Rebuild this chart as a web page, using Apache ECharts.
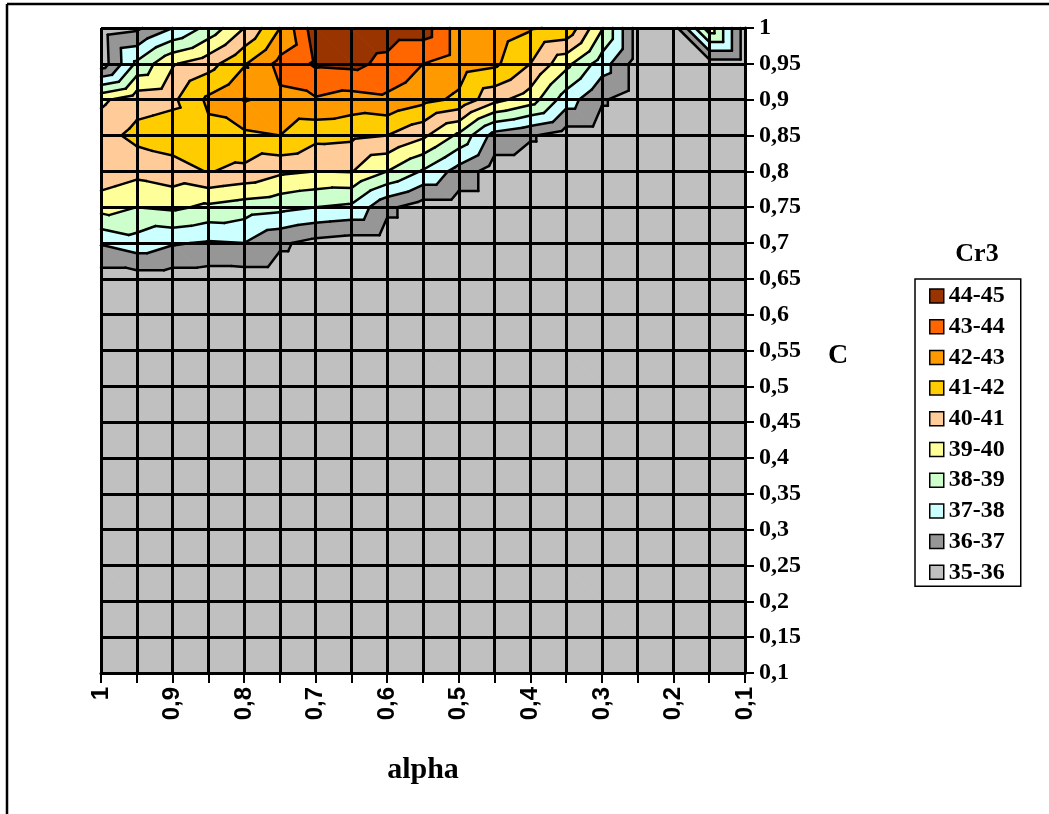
<!DOCTYPE html>
<html><head><meta charset="utf-8">
<script src="https://cdn.jsdelivr.net/npm/echarts@6/dist/echarts.min.js"></script>
<style>html,body{margin:0;padding:0;background:#fff}#c{width:1049px;height:814px}</style>
</head><body><div id="c"></div>
<script>
// Axis values (alpha decreasing left->right, C decreasing top->bottom)
const alphaValues = [1,0.95,0.9,0.85,0.8,0.75,0.7,0.65,0.6,0.55,0.5,0.45,0.4,0.35,0.3,0.25,0.2,0.15,0.1];
const cValues = [1,0.95,0.9,0.85,0.8,0.75,0.7,0.65,0.6,0.55,0.5,0.45,0.4,0.35,0.3,0.25,0.2,0.15,0.1];

// Cr3 values, one row per C value, columns in alphaValues order
const cr3_C100 = [35.5,35.8,37.0,38.3,40.0,42.0,44.6,44.6,44.5,44.5,42.5,42.6,42.1,41.8,39.1,35.5,35.5,39.6,35.5];
const cr3_C095 = [35.4,38.2,39.9,40.6,41.9,43.3,44.15,44.25,43.75,43.0,42.5,42.2,41.0,39.3,37.5,35.5,35.5,35.5,35.5];
const cr3_C090 = [39.8,40.6,40.8,42.2,43.05,42.8,42.9,42.6,42.8,42.3,41.8,40.3,39.5,37.5,36.1,35.5,35.5,35.5,35.5];
const cr3_C085 = [40.6,41.3,41.5,41.7,41.8,42.0,41.3,41.2,41.0,40.2,38.8,36.6,36.1,35.5,35.5,35.5,35.5,35.5,35.5];
const cr3_C080 = [40.7,40.3,40.6,41.05,40.77,40.2,40.0,40.05,39.0,37.9,36.6,35.5,35.5,35.5,35.5,35.5,35.5,35.5,35.5];
const cr3_C075 = [39.4,39.0,39.2,38.8,38.5,38.3,38.0,37.8,36.2,35.5,35.5,35.5,35.5,35.5,35.5,35.5,35.5,35.5,35.5];
const cr3_C070 = [37.1,37.6,37.1,36.9,37.0,36.15,35.7,35.5,35.5,35.5,35.5,35.5,35.5,35.5,35.5,35.5,35.5,35.5,35.5];
const cr3_C065 = [35.5,35.5,35.5,35.5,35.5,35.5,35.5,35.5,35.5,35.5,35.5,35.5,35.5,35.5,35.5,35.5,35.5,35.5,35.5];
const cr3_C060 = [35.5,35.5,35.5,35.5,35.5,35.5,35.5,35.5,35.5,35.5,35.5,35.5,35.5,35.5,35.5,35.5,35.5,35.5,35.5];
const cr3_C055 = [35.5,35.5,35.5,35.5,35.5,35.5,35.5,35.5,35.5,35.5,35.5,35.5,35.5,35.5,35.5,35.5,35.5,35.5,35.5];
const cr3_C050 = [35.5,35.5,35.5,35.5,35.5,35.5,35.5,35.5,35.5,35.5,35.5,35.5,35.5,35.5,35.5,35.5,35.5,35.5,35.5];
const cr3_C045 = [35.5,35.5,35.5,35.5,35.5,35.5,35.5,35.5,35.5,35.5,35.5,35.5,35.5,35.5,35.5,35.5,35.5,35.5,35.5];
const cr3_C040 = [35.5,35.5,35.5,35.5,35.5,35.5,35.5,35.5,35.5,35.5,35.5,35.5,35.5,35.5,35.5,35.5,35.5,35.5,35.5];
const cr3_C035 = [35.5,35.5,35.5,35.5,35.5,35.5,35.5,35.5,35.5,35.5,35.5,35.5,35.5,35.5,35.5,35.5,35.5,35.5,35.5];
const cr3_C030 = [35.5,35.5,35.5,35.5,35.5,35.5,35.5,35.5,35.5,35.5,35.5,35.5,35.5,35.5,35.5,35.5,35.5,35.5,35.5];
const cr3_C025 = [35.5,35.5,35.5,35.5,35.5,35.5,35.5,35.5,35.5,35.5,35.5,35.5,35.5,35.5,35.5,35.5,35.5,35.5,35.5];
const cr3_C020 = [35.5,35.5,35.5,35.5,35.5,35.5,35.5,35.5,35.5,35.5,35.5,35.5,35.5,35.5,35.5,35.5,35.5,35.5,35.5];
const cr3_C015 = [35.5,35.5,35.5,35.5,35.5,35.5,35.5,35.5,35.5,35.5,35.5,35.5,35.5,35.5,35.5,35.5,35.5,35.5,35.5];
const cr3_C010 = [35.5,35.5,35.5,35.5,35.5,35.5,35.5,35.5,35.5,35.5,35.5,35.5,35.5,35.5,35.5,35.5,35.5,35.5,35.5];
const cr3Grid = [cr3_C100,cr3_C095,cr3_C090,cr3_C085,cr3_C080,cr3_C075,cr3_C070,cr3_C065,cr3_C060,cr3_C055,
                 cr3_C050,cr3_C045,cr3_C040,cr3_C035,cr3_C030,cr3_C025,cr3_C020,cr3_C015,cr3_C010];

// Bands (legend order)
const bandNames = ['44-45','43-44','42-43','41-42','40-41','39-40','38-39','37-38','36-37','35-36'];
const bandLows  = [44,43,42,41,40,39,38,37,36,35];
const bandColors = ['#993300','#FF6600','#FF9900','#FFCC00','#FFCC99','#FFFF99','#CCFFCC','#CCFFFF','#969696','#C0C0C0'];
const contourLevels = [36,37,38,39,40,41,42,43,44];

const cells = [];
for (let r = 0; r < cValues.length - 1; r++)
  for (let c = 0; c < alphaValues.length - 1; c++) cells.push([c, r]);

function clip(poly, level, keepAbove) {
  if (!isFinite(level)) return poly;
  const out = [];
  const inside = p => keepAbove ? p[2] >= level : p[2] <= level;
  for (let i = 0; i < poly.length; i++) {
    const a = poly[i], b = poly[(i + 1) % poly.length];
    const ia = inside(a), ib = inside(b);
    if (ia) out.push(a);
    if (ia !== ib) {
      const t = (level - a[2]) / (b[2] - a[2]);
      out.push([a[0] + t * (b[0] - a[0]), a[1] + t * (b[1] - a[1]), level]);
    }
  }
  return out;
}
function cellTriangles(api) {
  const c = api.value(0), r = api.value(1);
  const P = (cc, rr) => { const p = api.coord([alphaValues[cc], cValues[rr]]); return [p[0], p[1], cr3Grid[rr][cc]]; };
  const tl = P(c, r), tr = P(c + 1, r), bl = P(c, r + 1), br = P(c + 1, r + 1);
  return [[tl, tr, br], [tl, br, bl]];
}
function bandRender(k) {
  const lo = k === bandLows.length - 1 ? -Infinity : bandLows[k];
  const hi = k === 0 ? Infinity : bandLows[k] + 1;
  const color = bandColors[k];
  return function (params, api) {
    const children = [];
    cellTriangles(api).forEach(tri => {
      let poly = clip(tri, lo, true);
      poly = clip(poly, hi, false);
      if (poly.length >= 3) children.push({
        type: 'polygon', shape: { points: poly.map(p => [p[0], p[1]]) },
        style: { fill: color, stroke: color, lineWidth: 1 }
      });
    });
    return { type: 'group', children };
  };
}
function contourRender(params, api) {
  const children = [];
  cellTriangles(api).forEach(tri => {
    contourLevels.forEach(L => {
      const pts = [];
      for (let i = 0; i < 3; i++) {
        const a = tri[i], b = tri[(i + 1) % 3];
        const ua = a[2] >= L, ub = b[2] >= L;
        if (ua !== ub) {
          const t = (L - a[2]) / (b[2] - a[2]);
          pts.push([a[0] + t * (b[0] - a[0]), a[1] + t * (b[1] - a[1])]);
        }
      }
      if (pts.length === 2) children.push({
        type: 'line', shape: { x1: pts[0][0], y1: pts[0][1], x2: pts[1][0], y2: pts[1][1] },
        style: { stroke: '#000', lineWidth: 2.5, lineCap: 'round' }
      });
    });
  });
  return { type: 'group', children };
}

const fmt = v => String(Math.round(v * 100) / 100).replace('.', ',');

const series = bandNames.map((name, k) => ({
  name, type: 'custom', renderItem: bandRender(k), data: cells, z: 2,
  itemStyle: { color: bandColors[k] }, silent: true, animation: false
}));
series.push({ name: 'contours', type: 'custom', renderItem: contourRender, data: cells, z: 3, silent: true, animation: false });

const chart = echarts.init(document.getElementById('c'), null, { renderer: 'canvas' });
chart.setOption({
  backgroundColor: '#fff',
  animation: false,
  grid: { left: 101, right: 304, top: 28, bottom: 141 },
  xAxis: {
    type: 'value', min: 0.1, max: 1, interval: 0.05, inverse: true, position: 'bottom', z: 10,
    axisLine: { show: true, onZero: false, lineStyle: { color: '#000', width: 3 } },
    axisTick: { show: true, inside: false, length: 10, lineStyle: { color: '#000', width: 2 } },
    splitLine: { show: true, showMinLine: true, showMaxLine: true, lineStyle: { color: '#000', width: 3 } },
    axisLabel: {
      rotate: 90, margin: 14, color: '#000', fontFamily: 'Liberation Sans', fontWeight: 'bold', fontSize: 24,
      showMinLabel: true, showMaxLabel: true,
      formatter: v => (Math.round(v * 100) % 10 === 0 ? fmt(v) : '')
    }
  },
  yAxis: {
    type: 'value', min: 0.1, max: 1, interval: 0.05, position: 'right', z: 10,
    axisLine: { show: true, onZero: false, lineStyle: { color: '#000', width: 3 } },
    axisTick: { show: true, inside: false, length: 9, lineStyle: { color: '#000', width: 2 } },
    splitLine: { show: true, showMinLine: true, showMaxLine: true, lineStyle: { color: '#000', width: 3 } },
    axisLabel: {
      margin: 14, color: '#000', fontFamily: 'Liberation Serif', fontWeight: 'bold', fontSize: 24,
      showMinLabel: true, showMaxLabel: true, formatter: v => fmt(v)
    }
  },
  legend: {
    data: bandNames, orient: 'vertical', left: 915, top: 279,
    padding: [5, 16, 2, 14], itemWidth: 14, itemHeight: 14, itemGap: 6.7,
    icon: 'rect', selectedMode: false,
    itemStyle: { borderColor: '#000', borderWidth: 1.5 },
    borderColor: '#000', borderWidth: 1.5,
    textStyle: { color: '#000', fontFamily: 'Liberation Serif', fontWeight: 'bold', fontSize: 24 }
  },
  graphic: [
    { type: 'line', shape: { x1: 7, y1: 4, x2: 1049, y2: 4 }, style: { stroke: '#000', lineWidth: 2.5 } },
    { type: 'line', shape: { x1: 7, y1: 4, x2: 7, y2: 814 }, style: { stroke: '#000', lineWidth: 2.5 } },
    { type: 'text', x: 423, y: 770, style: { text: 'alpha', fill: '#000', font: 'bold 30px "Liberation Serif"', textAlign: 'center', textVerticalAlign: 'middle' } },
    { type: 'text', x: 838, y: 356, style: { text: 'C', fill: '#000', font: 'bold 28px "Liberation Serif"', textAlign: 'center', textVerticalAlign: 'middle' } },
    { type: 'text', x: 977, y: 254, style: { text: 'Cr3', fill: '#000', font: 'bold 26px "Liberation Serif"', textAlign: 'center', textVerticalAlign: 'middle' } }
  ],
  series
});
</script></body></html>
